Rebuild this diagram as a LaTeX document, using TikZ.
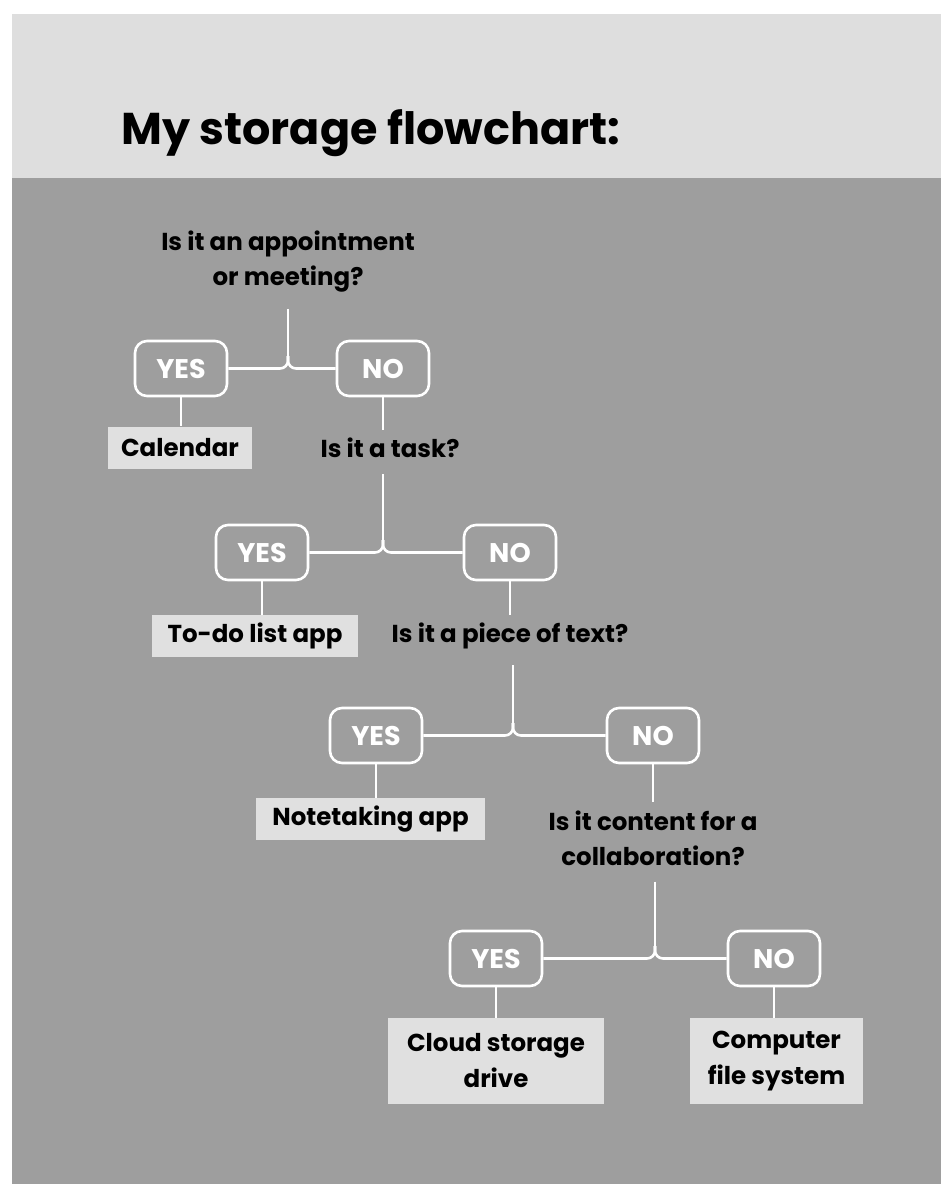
\documentclass[tikz,border=0pt]{standalone}
\usepackage{fontspec}
\setmainfont{Poppins}
\usepackage{tikz}

\definecolor{paper}{HTML}{DEDEDE}
\definecolor{panel}{HTML}{9E9E9E}
\definecolor{answerbg}{HTML}{E0E0E0}

\begin{document}
\begin{tikzpicture}[x=1pt,y=-1pt,
	link/.style={draw=white, line width=2.6pt},
	choice/.style={draw=white, line width=2.6pt, rounded corners=12pt, minimum width=92pt, minimum height=55pt, text=white, font=\bfseries\fontsize{27}{30}\selectfont},
	ask/.style={align=center, inner sep=0pt, font=\bfseries\fontsize{24.5}{35}\selectfont},
	answer/.style={fill=answerbg, align=center, minimum height=42pt, font=\bfseries\fontsize{24.5}{36}\selectfont}]
	\useasboundingbox (0,0) rectangle (941,1196);
	%\draw (0,0) rectangle (941,1196);
	\fill[paper] (12,14) rectangle (941,178);
	\fill[panel] (12,178) rectangle (941,1184);

	\node[anchor=base west, inner sep=0pt, font=\bfseries\fontsize{44.5}{50}\selectfont] (title) at (121,145) {My storage flowchart:};

	% questions
	\node[ask] (q1) at (288,262) {Is it an appointment\\or meeting?};
	\node[ask] (q2) at (390,448) {Is it a task?};
	\node[ask] (q3) at (510,636) {Is it a piece of text?};
	\node[ask] (q4) at (653,838) {Is it content for a\\collaboration?};

	% yes / no
	\node[choice] (yes1) at (181,368.5) {YES};
	\node[choice] (no1) at (383,368.5) {NO};
	\node[choice] (yes2) at (262,552.5) {YES};
	\node[choice] (no2) at (510,552.5) {NO};
	\node[choice] (yes3) at (376,735.5) {YES};
	\node[choice] (no3) at (653,735.5) {NO};
	\node[choice] (yes4) at (496,958.5) {YES};
	\node[choice] (no4) at (774,958.5) {NO};

	% answers
	\node[answer, minimum width=144pt] (a1) at (180,447.5) {Calendar};
	\node[answer, minimum width=206pt] (a2) at (255,636) {To-do list app};
	\node[answer, minimum width=229pt] (a3) at (370.5,819) {Notetaking app};
	\node[answer, minimum width=216pt, minimum height=86pt] (a4) at (496,1061) {Cloud storage\\drive};
	\node[answer, minimum width=173pt, minimum height=86pt] (a5) at (776.5,1061) {Computer\\file system};

	% junctions
	\coordinate (j1) at (288,356);
	\coordinate (j2) at (383,540);
	\coordinate (j3) at (513,723);
	\coordinate (j4) at (655,946);

	\foreach \i in {1,...,4}{
		\draw[link, shorten <=16pt] (q\i.south -| j\i) -- (j\i);
		\draw[link, rounded corners=8pt] (yes\i.east) -- (j\i |- yes\i) -- (j\i);
		\draw[link, rounded corners=8pt] (no\i.west) -- (j\i |- no\i) -- (j\i);
		\draw[link] (yes\i.south) -- (yes\i.south |- a\i.north);
	}
	\foreach \i/\next in {1/2, 2/3, 3/4}
		\draw[link, shorten >=8pt] (no\i.south) -- (no\i.south |- q\next.north);
	\draw[link] (no4.south) -- (no4.south |- a5.north);
\end{tikzpicture}
\end{document}
